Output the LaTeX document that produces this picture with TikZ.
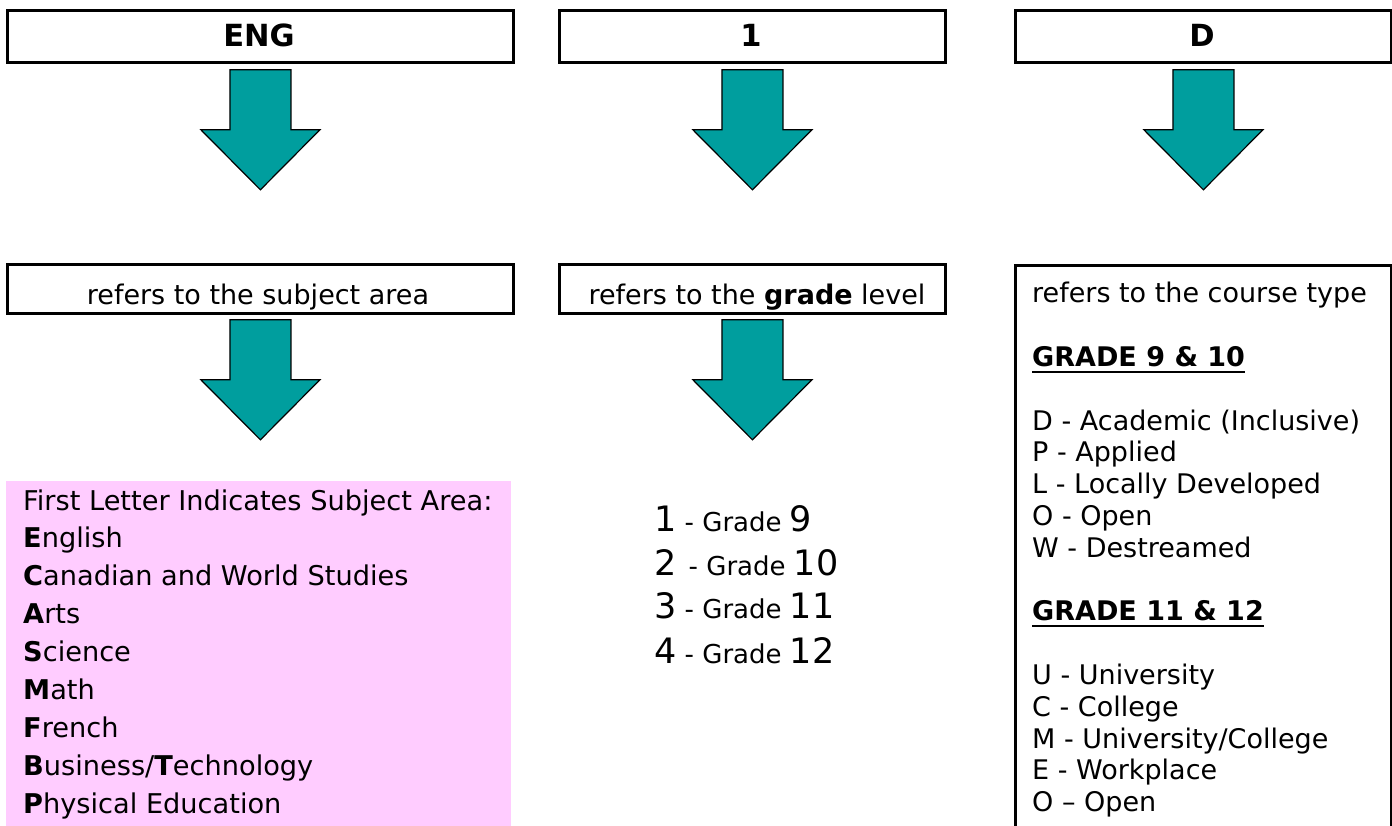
\documentclass[tikz,border=0pt]{standalone}
\usepackage{fontspec}
\setmainfont{DejaVu Sans}
\usetikzlibrary{calc}
\definecolor{arrowteal}{RGB}{0,158,158}
\definecolor{pinkfill}{RGB}{255,204,255}
\newcommand\myul[1]{\setbox0\hbox{#1}\rlap{\rule[-6.5pt]{\wd0}{2.4pt}}\box0}
\newcommand\bigd[1]{{\fontsize{35}{35}\selectfont #1}}
\tikzset{
  box/.style={draw=black, line width=2.8pt, fill=white, inner sep=0pt},
  title/.style={font=\fontsize{30.5}{34}\selectfont\bfseries, inner sep=0pt, anchor=base},
  sub/.style={font=\fontsize{27}{31}\selectfont, inner sep=0pt, anchor=base},
  subjlist/.style={font=\fontsize{27.2}{37.9}\selectfont, inner sep=0pt, anchor=base west},
  courselist/.style={font=\fontsize{27}{31.8}\selectfont, inner sep=0pt, anchor=base west},
  gradeline/.style={font=\fontsize{26}{31}\selectfont, inner sep=0pt, anchor=base west},
  blockarrow/.style={draw=black, line width=1.2pt, fill=arrowteal, line join=miter},
  downarr/.pic={\path[blockarrow] (-30.5,-120) -- (30.5,-120) -- (30.5,-60) -- (59.5,-60) -- (0,0) -- (-59.5,-60) -- (-30.5,-60) -- cycle;}
}
\begin{document}
\begin{tikzpicture}[x=1pt,y=-1pt]
\useasboundingbox (0,0) rectangle (1392,826);
\clip (0,0) rectangle (1392,826);
% top boxes
\node[box, minimum width=506pt, minimum height=52pt, anchor=north west] (eng) at (6,9) {};
\node[box, minimum width=386pt, minimum height=52pt, anchor=north west] (one) at (558,9) {};
\node[box, minimum width=376pt, minimum height=52pt, anchor=north west] (dd) at (1014,9) {};
\node[title] (engt) at (259,47) {ENG};
\node[title] (onet) at (751,47) {1};
\node[title] (ddt) at (1202,47) {D};
% first arrows
\pic at ($(eng.south)+(0,126)$) {downarr};
\pic at ($(one.south)+(0,126)$) {downarr};
\pic at ($(dd.south)+(0,126)$) {downarr};
% second row boxes
\node[box, minimum width=506pt, minimum height=49pt, anchor=north west] (subj) at (6,263) {};
\node[box, minimum width=386pt, minimum height=49pt, anchor=north west] (grade) at (558,263) {};
\node[box, minimum width=376pt, minimum height=640pt, anchor=north west] (course) at (1014,264) {};
\node[sub] (subjt) at (258,305) {refers to the subject area};
\node[sub] (gradet) at (757,305) {refers to the \textbf{grade} level};
% second arrows
\pic at ($(subj.south)+(0,125)$) {downarr};
\pic at ($(grade.south)+(0,125)$) {downarr};
% pink subject list
\node[fill=pinkfill, inner sep=0pt, minimum width=505pt, minimum height=350pt, anchor=north west] (subjects) at (6,481) {};
\node[subjlist] (subjtext) at (23,510) {\begin{tabular}[t]{@{}l@{}}
First Letter Indicates Subject Area:\\
\textbf{E}nglish\\
\textbf{C}anadian and World Studies\\
\textbf{A}rts\\
\textbf{S}cience\\
\textbf{M}ath\\
\textbf{F}rench\\
\textbf{B}usiness/\textbf{T}echnology\\
\textbf{P}hysical Education
\end{tabular}};
% grade list
\node[gradeline] (g1) at (654,531) {\bigd{1} - Grade \bigd{9}};
\node[gradeline] (g2) at (654,575) {\bigd{2}\hspace{4pt} - Grade \bigd{10}};
\node[gradeline] (g3) at (654,618) {\bigd{3} - Grade \bigd{11}};
\node[gradeline] (g4) at (654,663) {\bigd{4} - Grade \bigd{12}};
% course type list
\node[courselist] (coursetext) at (1032,303) {\begin{tabular}[t]{@{}l@{}}
refers to the course type\\
\\
\myul{\textbf{GRADE 9 \& 10}}\\
\\
D - Academic (Inclusive)\\
P - Applied\\
L - Locally Developed\\
O - Open\\
W - Destreamed\\
\\
\myul{\textbf{GRADE 11 \& 12}}\\
\\
U - University\\
C - College\\
M - University/College\\
E - Workplace\\
O -- Open
\end{tabular}};
\end{tikzpicture}
\end{document}
